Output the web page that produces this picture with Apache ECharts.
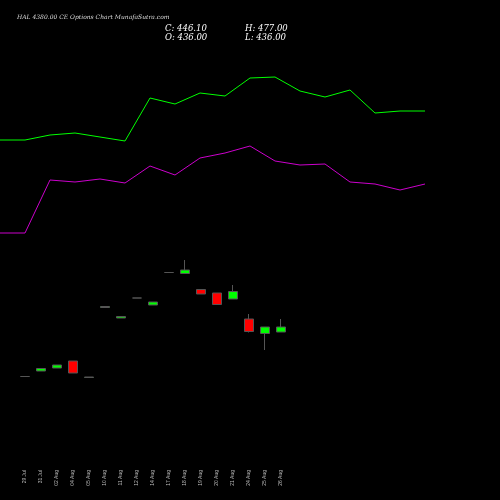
<!DOCTYPE html><html><head><meta charset="utf-8"><script src="https://cdn.jsdelivr.net/npm/echarts@6/dist/echarts.min.js"></script></head><body style="margin:0;background:#000"><div id="c" style="width:500px;height:500px"></div><script>
const dates=["29 Jul","31 Jul","02 Aug","04 Aug","05 Aug","10 Aug","11 Aug","12 Aug","14 Aug","17 Aug","18 Aug","19 Aug","20 Aug","21 Aug","24 Aug","25 Aug","26 Aug"];
const opens=[347,358,364,378,345,485,464,504,490,555,553,521,514,502,462,433,436];
const closes=[347,363,370,354,346,487,467,504,496,555,560,512,491,517,437,446,446];
const lows=[347,358,364,354,345,485,464,504,490,555,553,512,491,502,435,400,436];
const highs=[347,363,370,378,346,487,467,504,496,555,580,521,514,530,472,446,462];
const upperLine=[360,360,365,367,363,359,402,396,407,404,422,423,409,403,410,387,389,389];
const lowerLine=[267,267,320,318,321,317,334,325,342,347,354,339,335,336,318,316,310,316];
const lineX=upperLine.map((_,i)=>i);
const chart=echarts.init(document.getElementById('c'));
const cd=dates.map((d,i)=>{const up=closes[i]>opens[i],fl=closes[i]===opens[i];return {value:[opens[i],closes[i],lows[i],highs[i]],itemStyle:{color:fl?'#bbb':(up?'#00ff00':'#ff0000'),color0:fl?'#bbb':'#ff0000',borderColor:'#555',borderColor0:'#555'}};});
chart.setOption({backgroundColor:'#000',animation:false,
title:[{text:'HAL 4380.00 CE Options Chart MunafaSutra.com',left:12,top:9,textStyle:{color:'#ddd',fontSize:6,fontFamily:'DejaVu Serif',fontStyle:'italic',fontWeight:'normal'}},
{text:'C: 446.10\nO: 436.00',left:160,top:19,textStyle:{color:'#fff',fontSize:8.5,lineHeight:9,fontFamily:'DejaVu Serif',fontStyle:'italic',fontWeight:'normal'}},
{text:'H: 477.00\nL: 436.00',left:240,top:19,textStyle:{color:'#fff',fontSize:8.5,lineHeight:9,fontFamily:'DejaVu Serif',fontStyle:'italic',fontWeight:'normal'}}],
grid:[{left:0,width:425,top:0,height:500},{left:17,width:272,top:0,height:440}],
xAxis:[{type:'category',gridIndex:0,data:lineX,boundaryGap:false,show:false},
{type:'category',gridIndex:1,data:dates,axisLine:{show:false},axisTick:{show:false},axisLabel:{rotate:90,color:'#bbb',fontSize:5,margin:30,interval:0}}],
yAxis:[{type:'value',gridIndex:0,min:0,max:500,show:false},{type:'value',gridIndex:1,min:220,max:1100,show:false}],
series:[{type:'line',xAxisIndex:0,yAxisIndex:0,data:upperLine,symbol:'none',lineStyle:{color:'#00ff00',width:1}},
{type:'line',xAxisIndex:0,yAxisIndex:0,data:lowerLine,symbol:'none',lineStyle:{color:'#cc00cc',width:1}},
{type:'candlestick',xAxisIndex:1,yAxisIndex:1,barWidth:10,data:cd}]});
</script></body></html>
